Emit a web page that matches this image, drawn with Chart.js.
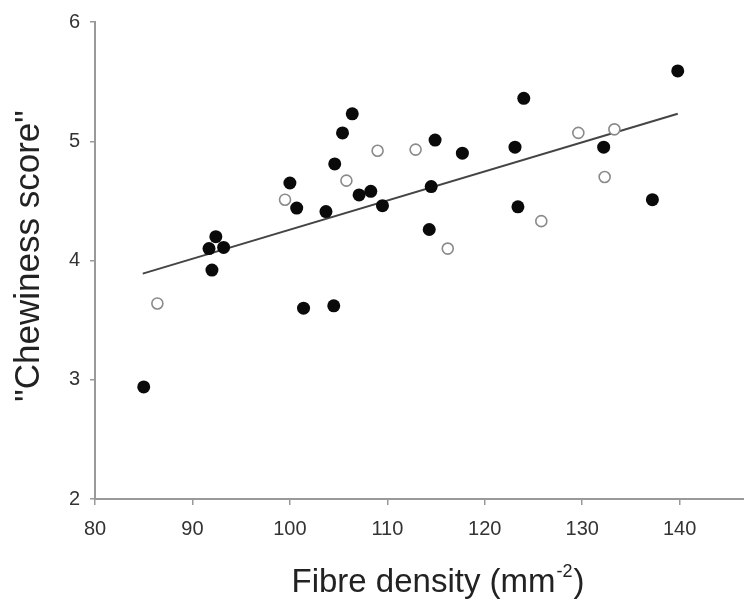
<!DOCTYPE html>
<html>
<head>
<meta charset="utf-8">
<script src="https://cdn.jsdelivr.net/npm/chart.js@4/dist/chart.umd.min.js"></script>
<style>
  html, body { margin: 0; padding: 0; background: #fff; }
  #wrap { width: 744px; height: 603px; position: relative; }
</style>
</head>
<body>
<div id="wrap"><canvas id="chewChart"></canvas></div>
<script>
// Filled circles
const filledX = [85.0, 91.7, 92.0, 92.4, 93.2, 100.0, 100.7, 101.4, 103.7, 104.5, 104.6, 105.4, 106.4,
                 107.1, 108.3, 109.5, 114.3, 114.5, 114.9, 117.7, 123.1, 123.4, 124.0, 132.2, 137.2, 139.8];
const filledY = [2.94, 4.10, 3.92, 4.20, 4.11, 4.65, 4.44, 3.60, 4.41, 3.62, 4.81, 5.07, 5.23,
                 4.55, 4.58, 4.46, 4.26, 4.62, 5.01, 4.90, 4.95, 4.45, 5.36, 4.95, 4.51, 5.59];

// Open circles
const openX = [86.4, 99.5, 105.8, 109.0, 112.9, 116.2, 125.8, 129.6, 132.3, 133.3];
const openY = [3.64, 4.51, 4.67, 4.92, 4.93, 4.10, 4.33, 5.07, 4.70, 5.10];

// Regression line end points
const fitX = [84.9, 139.8];
const fitY = [3.89, 5.23];

const xTicks = [80, 90, 100, 110, 120, 130, 140];
const yTicks = [2, 3, 4, 5, 6];

const yTitle = '"Chewiness score"';
const xTitle = 'Fibre density (mm';
const xTitleSup = '-2';

const toPoints = (xs, ys) => xs.map((x, i) => ({ x: x, y: ys[i] }));

const fontFamily = '"Liberation Sans", Arial, Helvetica, sans-serif';

// Titles drawn by hand (superscript on the x title)
const axisTitles = {
    id: 'axisTitles',
    afterDraw(chart) {
        const ctx = chart.ctx;
        ctx.save();
        ctx.fillStyle = '#222';

        // y title
        ctx.font = '35px ' + fontFamily;
        ctx.textAlign = 'center';
        ctx.textBaseline = 'middle';
        ctx.translate(29, 256);
        ctx.rotate(-Math.PI / 2);
        ctx.fillText(yTitle, 0, 0);
        ctx.setTransform(1, 0, 0, 1, 0, 0);

        // x title
        ctx.textAlign = 'left';
        ctx.textBaseline = 'alphabetic';
        ctx.font = '33px ' + fontFamily;
        const w1 = ctx.measureText(xTitle).width;
        const w3 = ctx.measureText(')').width;
        ctx.font = '18px ' + fontFamily;
        const w2 = ctx.measureText(xTitleSup).width;
        const total = w1 + w2 + w3;
        const x0 = 437 - total / 2;
        const base = 592;
        ctx.font = '33px ' + fontFamily;
        ctx.fillText(xTitle, x0, base);
        ctx.font = '18px ' + fontFamily;
        ctx.fillText(xTitleSup, x0 + w1 + 1, base - 15);
        ctx.font = '33px ' + fontFamily;
        ctx.fillText(')', x0 + w1 + w2 + 2, base);
        ctx.restore();
    }
};

const ctx = document.getElementById('chewChart');
new Chart(ctx.getContext('2d'), {
    type: 'scatter',
    data: {
        datasets: [
            {
                type: 'line',
                data: toPoints(fitX, fitY),
                borderColor: '#444',
                borderWidth: 2,
                pointRadius: 0,
                fill: false,
                order: 3
            },
            {
                data: toPoints(openX, openY),
                backgroundColor: '#fff',
                borderColor: '#8a8a8a',
                borderWidth: 1.6,
                pointRadius: 5.5,
                order: 2
            },
            {
                data: toPoints(filledX, filledY),
                backgroundColor: '#0a0a0a',
                borderColor: '#0a0a0a',
                borderWidth: 0,
                pointRadius: 6.5,
                order: 1
            }
        ]
    },
    options: {
        responsive: true,
        maintainAspectRatio: false,
        animation: false,
        layout: { autoPadding: false, padding: { top: 19.5, right: 0, left: 0, bottom: 0 } },
        plugins: {
            legend: { display: false },
            tooltip: { enabled: false }
        },
        scales: {
            x: {
                type: 'linear',
                min: 80,
                max: 146.6,
                afterBuildTicks: s => { s.ticks = xTicks.map(v => ({ value: v })); },
                afterFit: s => { s.height = 104; },
                border: { display: true, color: '#999', width: 2 },
                grid: { display: true, drawOnChartArea: false, drawTicks: true, tickLength: 6, color: '#999', lineWidth: 1.5 },
                ticks: { color: '#333', padding: 12, font: { size: 20, family: fontFamily }, maxRotation: 0 }
            },
            y: {
                type: 'linear',
                min: 2,
                max: 6,
                afterBuildTicks: s => { s.ticks = yTicks.map(v => ({ value: v })); },
                afterFit: s => { s.width = 95; },
                border: { display: true, color: '#999', width: 2 },
                grid: { display: true, drawOnChartArea: false, drawTicks: true, tickLength: 5, color: '#999', lineWidth: 1.5 },
                ticks: { color: '#333', padding: 10, font: { size: 20, family: fontFamily } }
            }
        }
    },
    plugins: [axisTitles]
});
</script>
</body>
</html>
